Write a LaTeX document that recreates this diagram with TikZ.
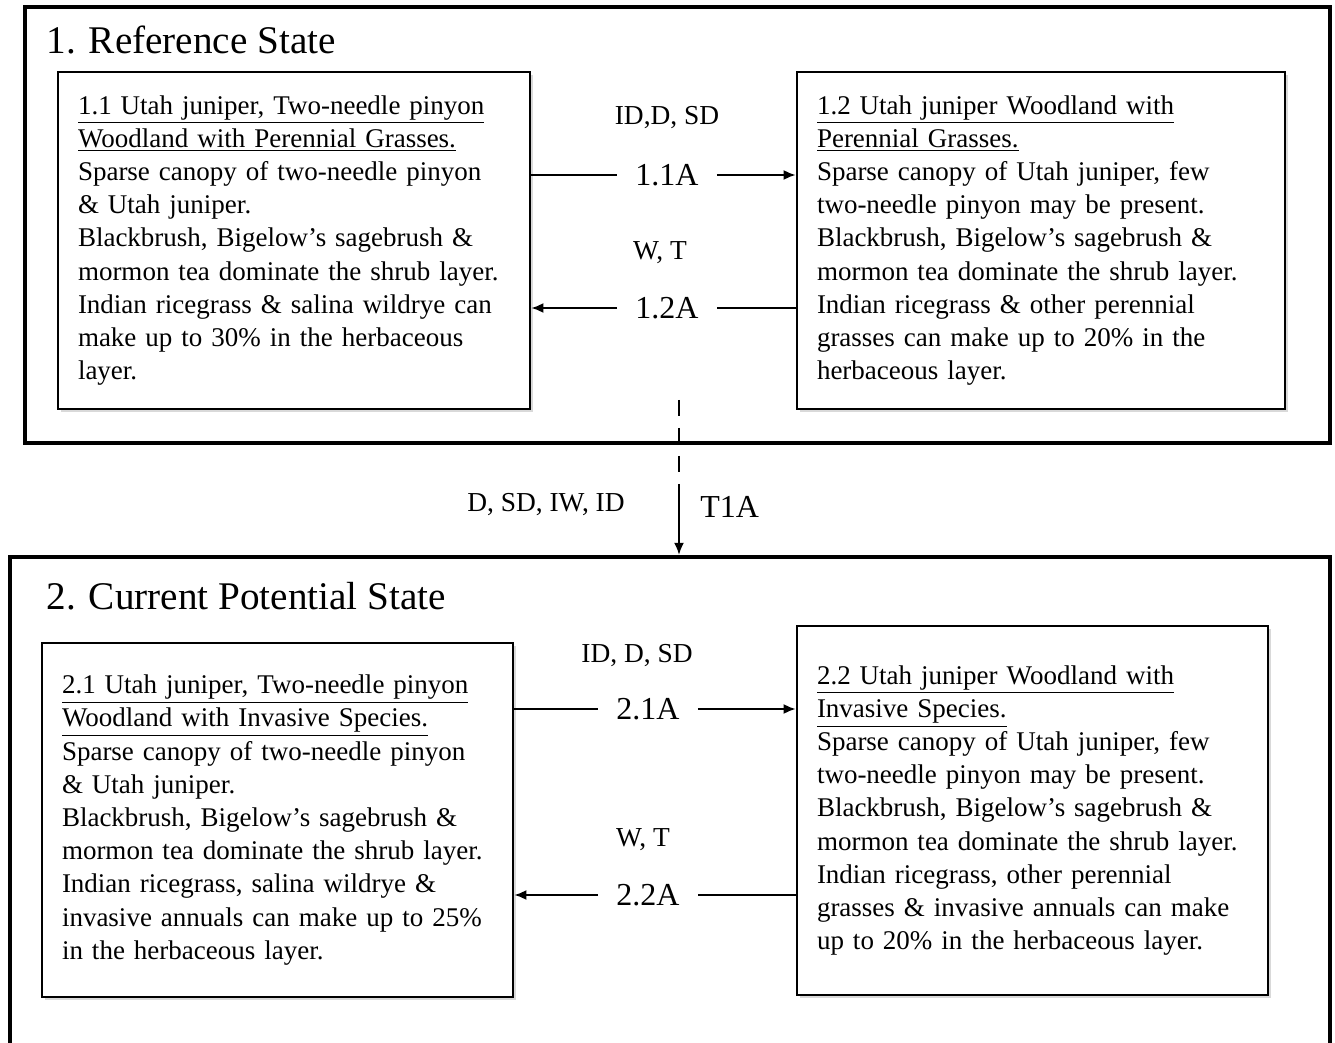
\documentclass[tikz,border=0pt]{standalone}
\usepackage{fontspec}
\setmainfont{Liberation Serif}
\usetikzlibrary{arrows,arrows.meta,shadows}
\tikzstyle{statebox}=[draw,line width=2.2pt,inner sep=0pt]
\tikzstyle{phase}=[draw,line width=1.4pt,fill=white,align=left,inner xsep=10pt,inner ysep=0pt,font=\fontsize{13.5}{16.6}\selectfont,drop shadow={shadow xshift=1.5pt,shadow yshift=-1.5pt,opacity=0.3}]
\tikzstyle{code}=[inner xsep=9pt,inner ysep=2pt,font=\fontsize{16}{19}\selectfont]
\tikzstyle{cause}=[inner sep=0pt,font=\fontsize{13.7}{16}\selectfont]
\tikzstyle{title}=[anchor=west,inner sep=0pt,font=\fontsize{19.6}{24}\selectfont]
\tikzstyle{edge}=[draw,line width=0.9pt]
\tikzstyle{tip}=[-{Latex[length=6pt,width=5pt]}]

\begin{document}
\begin{tikzpicture}[x=0.5pt,y=-0.5pt]
    \useasboundingbox (0,0) rectangle (1335,1043);
    % The two states
    \node[statebox,minimum width=652.5pt,minimum height=218pt] (s1) at (677.5,225) {};
    \node[statebox,minimum width=660pt,minimum height=251.5pt] (s2) at (670,808.5) {};
    \node[title] (t1) at (46,40) {1. Reference State};
    \node[title] (t2) at (46,596) {2. Current Potential State};
    % The community phases
    \node[phase,text width=216pt,minimum height=168.5pt] (b11) at (294,240.5)
      {\underline{1.1 Utah juniper, Two-needle pinyon}\\
       \underline{Woodland with Perennial Grasses.}\\
       Sparse canopy of two-needle pinyon\\
       \& Utah juniper.\\
       Blackbrush, Bigelow's sagebrush \&\\
       mormon tea dominate the shrub layer.\\
       Indian ricegrass \& salina wildrye can\\
       make up to 30\% in the herbaceous\\
       layer.};
    \node[phase,text width=224pt,minimum height=168.5pt] (b12) at (1041,240.5)
      {\underline{1.2 Utah juniper Woodland with}\\
       \underline{Perennial Grasses.}\\
       Sparse canopy of Utah juniper, few\\
       two-needle pinyon may be present.\\
       Blackbrush, Bigelow's sagebrush \&\\
       mormon tea dominate the shrub layer.\\
       Indian ricegrass \& other perennial\\
       grasses can make up to 20\% in the\\
       herbaceous layer.};
    \node[phase,text width=215.5pt,minimum height=177pt] (b21) at (277.5,820)
      {\underline{2.1 Utah juniper, Two-needle pinyon}\\
       \underline{Woodland with Invasive Species.}\\
       Sparse canopy of two-needle pinyon\\
       \& Utah juniper.\\
       Blackbrush, Bigelow's sagebrush \&\\
       mormon tea dominate the shrub layer.\\
       Indian ricegrass, salina wildrye \&\\
       invasive annuals can make up to 25\%\\
       in the herbaceous layer.};
    \node[phase,text width=215.5pt,minimum height=184.5pt] (b22) at (1032.5,810.5)
      {\underline{2.2 Utah juniper Woodland with}\\
       \underline{Invasive Species.}\\
       Sparse canopy of Utah juniper, few\\
       two-needle pinyon may be present.\\
       Blackbrush, Bigelow's sagebrush \&\\
       mormon tea dominate the shrub layer.\\
       Indian ricegrass, other perennial\\
       grasses \& invasive annuals can make\\
       up to 20\% in the herbaceous layer.};
    % Pathway codes and their causes
    \foreach \pos/\name/\txt in {{(667,175)/c11/1.1A}, {(667,308)/c12/1.2A}, {(648,709)/c21/2.1A}, {(648,895)/c22/2.2A}}
       \node[code] (\name) at \pos {\txt};
    \foreach \pos/\name/\txt in {{(667,118)/k11/{ID,D, SD}}, {(660,253)/k12/{W, T}}, {(637,656)/k21/{ID, D, SD}}, {(643,840)/k22/{W, T}}, {(546,505)/kt/{D, SD, IW, ID}}}
       \node[cause] (\name) at \pos {\txt};
    % Connect phases through the codes
    \foreach \source/\code/\dest in {b11/c11/b12, b21/c21/b22} {
        \path[edge] (\source.east |- \code) -- (\code);
        \path[edge,tip] (\code) -- (\dest.west |- \code);
    }
    \foreach \source/\code/\dest in {b12/c12/b11, b22/c22/b21} {
        \path[edge] (\source.west |- \code) -- (\code);
        \path[edge,tip] (\code) -- (\dest.east |- \code);
    }
    % Transition between the states
    \coordinate (d0) at (679,400);
    \coordinate (d1) at (679,488);
    \node[code,anchor=west,inner sep=0pt] (tt) at (700,507) {T1A};
    \path[edge,line width=1.3pt,dash pattern=on 8pt off 6pt] (d0) -- (d1);
    \path[edge,tip] (d1) -- (d1 |- s2.north);
\end{tikzpicture}
\end{document}
